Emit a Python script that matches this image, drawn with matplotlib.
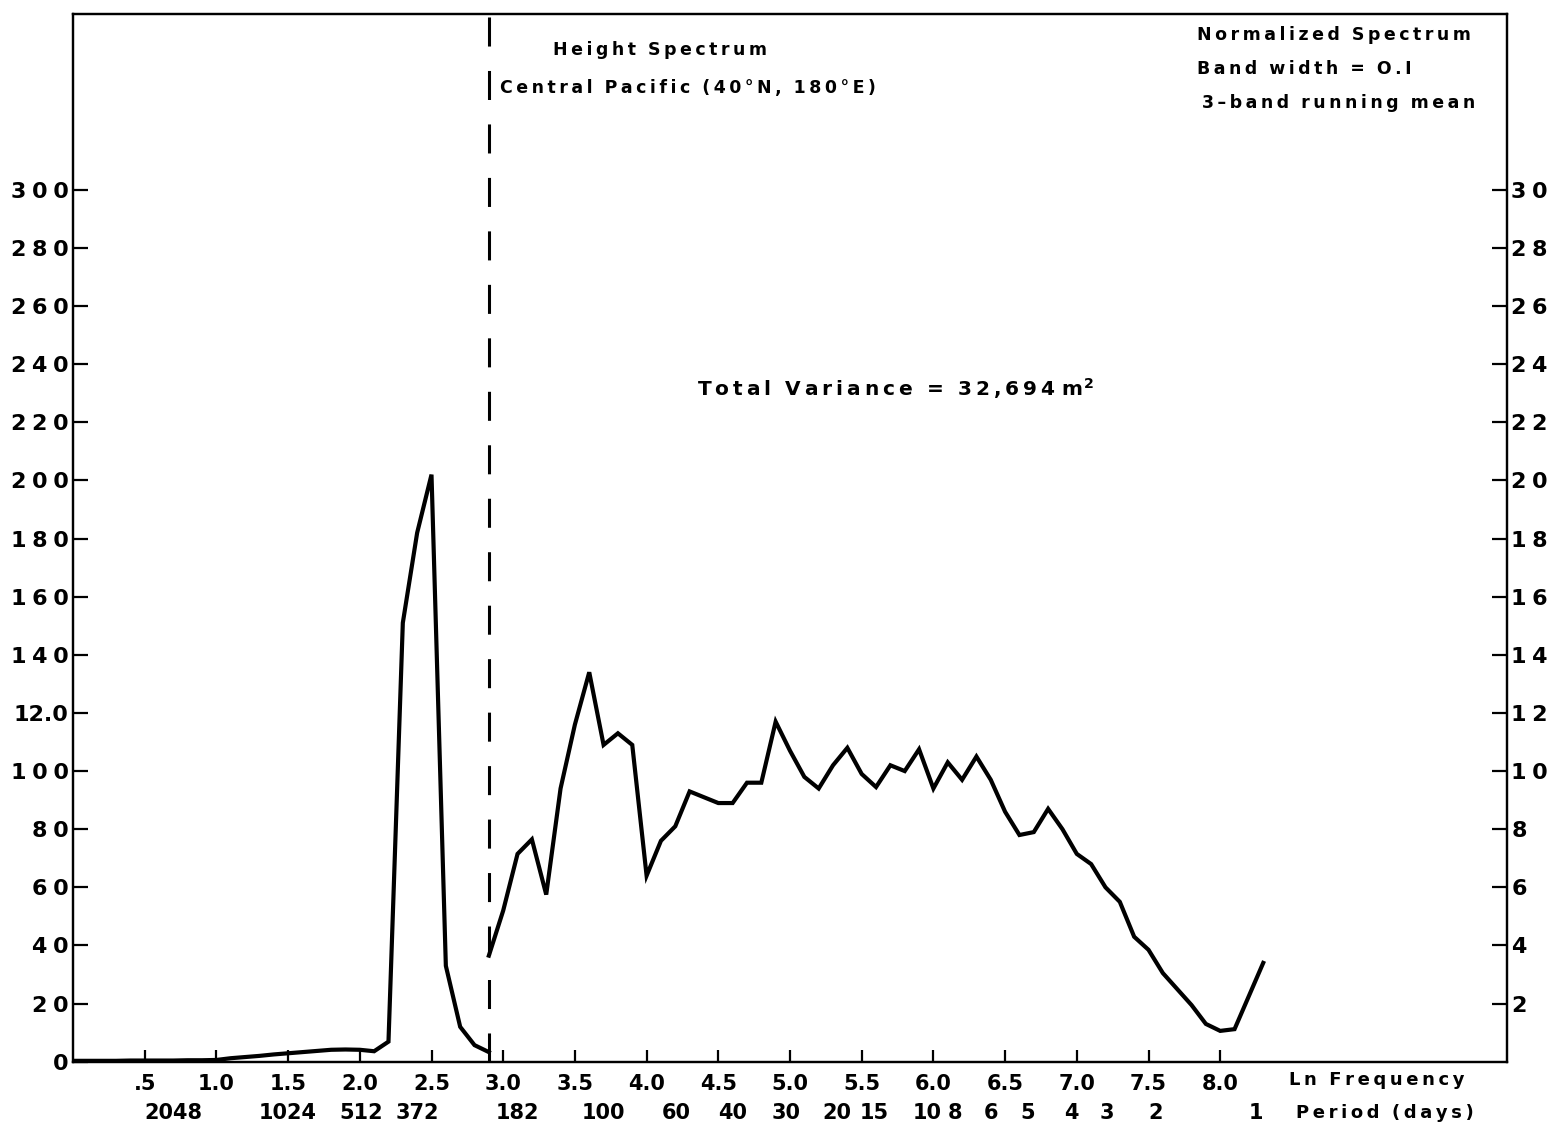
"""
Height spectrum, Central Pacific (40N, 180E): normalized spectrum against
Ln frequency, low-frequency band on the left scale, the rest on the right
scale (x10 expanded).
"""
import matplotlib
matplotlib.use("Agg")
import matplotlib.pyplot as plt

W, H, DPI = 1552, 1129, 100
THIN = "\u2009"      # letter gap in running text
DIGIT_GAP = "\u2005"  # letter gap in the scale numbers

# low-frequency part, read on the left scale (0-300)
LOW_LNF = [0.0, 0.1, 0.2, 0.3, 0.4, 0.5, 0.6, 0.7, 0.8, 0.9,
           1.0, 1.1, 1.2, 1.3, 1.4, 1.5, 1.6, 1.7, 1.8, 1.9,
           2.0, 2.1, 2.2, 2.3, 2.4, 2.5, 2.6, 2.7, 2.8, 2.9]
LOW_SPEC = [0.3, 0.3, 0.3, 0.3, 0.4, 0.4, 0.4, 0.4, 0.5, 0.5,
            0.6, 1.2, 1.6, 2.0, 2.5, 2.9, 3.3, 3.7, 4.1, 4.2,
            4.1, 3.6, 6.9, 151, 182, 202, 33, 12, 5.7, 3.3]

# remainder of the spectrum, read on the right scale (0-30)
HIGH_LNF = [2.9, 3.0, 3.1, 3.2, 3.3, 3.4, 3.5, 3.6, 3.7, 3.8, 3.9,
            4.0, 4.1, 4.2, 4.3, 4.4, 4.5, 4.6, 4.7, 4.8, 4.9,
            5.0, 5.1, 5.2, 5.3, 5.4, 5.5, 5.6, 5.7, 5.8, 5.9,
            6.0, 6.1, 6.2, 6.3, 6.4, 6.5, 6.6, 6.7, 6.8, 6.9,
            7.0, 7.1, 7.2, 7.3, 7.4, 7.5, 7.6, 7.7, 7.8, 7.9,
            8.0, 8.1, 8.3]
HIGH_SPEC = [3.65, 5.2, 7.15, 7.65, 5.75, 9.4, 11.6, 13.4, 10.9, 11.3, 10.9,
             6.4, 7.6, 8.1, 9.3, 9.1, 8.9, 8.9, 9.6, 9.6, 11.7,
             10.7, 9.8, 9.4, 10.2, 10.8, 9.9, 9.45, 10.2, 10.0, 10.75,
             9.4, 10.3, 9.7, 10.5, 9.7, 8.6, 7.8, 7.9, 8.7, 8.0,
             7.15, 6.8, 6.0, 5.5, 4.3, 3.85, 3.05, 2.5, 1.95, 1.3,
             1.06, 1.12, 3.4]

SPLIT_LNF = 2.9

FREQ_TICKS = [0.5, 1.0, 1.5, 2.0, 2.5, 3.0, 3.5, 4.0,
              4.5, 5.0, 5.5, 6.0, 6.5, 7.0, 7.5, 8.0]
FREQ_LABELS = [".5", "1.0", "1.5", "2.0", "2.5", "3.0", "3.5", "4.0",
               "4.5", "5.0", "5.5", "6.0", "6.5", "7.0", "7.5", "8.0"]

PERIOD_POS = [0.70, 1.50, 2.01, 2.40, 3.10, 3.70, 4.21, 4.60, 4.97, 5.33,
              5.59, 5.96, 6.15, 6.40, 6.66, 6.96, 7.21, 7.55, 8.25]
PERIOD_LABELS = ["2048", "1024", "512", "372", "182", "100", "60", "40", "30",
                 "20", "15", "10", "8", "6", "5", "4", "3", "2", "1"]

LEFT_TICKS = list(range(0, 301, 20))
LEFT_LABELS = ["0", "20", "40", "60", "80", "100", "12.0", "140", "160",
               "180", "200", "220", "240", "260", "280", "300"]
RIGHT_TICKS = list(range(2, 31, 2))
RIGHT_LABELS = [str(t) for t in RIGHT_TICKS]


def spaced(s, gap=THIN, word="  "):
    # open up the lettering a little, stencil style; words get a wider gap
    return word.join(gap.join(w) for w in s.split(" "))


def scale_label(s):
    # numbers with a point are already wide enough
    return s if "." in s else spaced(s, DIGIT_GAP)


plt.rcParams["font.family"] = "DejaVu Sans"
plt.rcParams["font.weight"] = "bold"

fig = plt.figure(figsize=(W / DPI, H / DPI), dpi=DPI)
x0, x1, y0, y1 = 73, 1507, 1061.7, 14
ax = fig.add_axes([x0 / W, 1 - y0 / H, (x1 - x0) / W, (y0 - y1) / H])
ax.set_xlim(0, 10.0)
ax.set_ylim(0, 360.5)
axr = ax.twinx()
axr.set_ylim(0, 36.05)

for a in (ax, axr):
    for sp in a.spines.values():
        sp.set_linewidth(1.6)
        sp.set_color("black")

ax.plot(LOW_LNF, LOW_SPEC, color="black", lw=3.0, solid_joinstyle="miter",
        zorder=3)
axr.plot(HIGH_LNF, HIGH_SPEC, color="black", lw=3.0, solid_joinstyle="miter",
         zorder=3)
ax.axvline(SPLIT_LNF, color="black", lw=2.2, dashes=(9.5, 8), zorder=2)

ax.set_yticks(LEFT_TICKS)
ax.set_yticklabels([scale_label(s) for s in LEFT_LABELS])
axr.set_yticks(RIGHT_TICKS)
axr.set_yticklabels([scale_label(s) for s in RIGHT_LABELS])
ax.set_xticks(FREQ_TICKS)
ax.set_xticklabels(FREQ_LABELS)

ax.tick_params(axis="y", direction="in", length=11, width=1.6, pad=3,
               labelsize=16)
axr.tick_params(axis="y", direction="in", length=11, width=1.6, pad=3,
                labelsize=16)
ax.tick_params(axis="x", direction="in", length=9, width=1.6, pad=9,
               labelsize=15)

xt = ax.get_xaxis_transform()
for pos, lab in zip(PERIOD_POS, PERIOD_LABELS):
    ax.text(pos, -0.049, lab, transform=xt, ha="center", va="center",
            fontsize=15)
ax.text(8.48, -0.0175, spaced("Ln Frequency"), transform=xt,
        ha="left", va="center", fontsize=13)
ax.text(8.53, -0.049, spaced("Period (days)"), transform=xt,
        ha="left", va="center", fontsize=13)

ax.text(3.35, 348, spaced("Height Spectrum"),
        ha="left", va="center", fontsize=12.5)
ax.text(2.98, 335, spaced("Central Pacific (40°N, 180°E)"),
        ha="left", va="center", fontsize=12.5)

ax.text(7.84, 353.3, spaced("Normalized Spectrum"),
        ha="left", va="center", fontsize=12.5)
ax.text(7.84, 341.6, spaced("Band width = O.I"),
        ha="left", va="center", fontsize=12.5)
ax.text(7.87, 330, spaced("3–band running mean"),
        ha="left", va="center", fontsize=12.5)

ax.text(4.35, 231.5, spaced("Total Variance = 32,694") + " m$^{\\mathbf{2}}$",
        ha="left", va="center", fontsize=14.5)

fig.savefig("out.png", dpi=DPI, facecolor="white")
